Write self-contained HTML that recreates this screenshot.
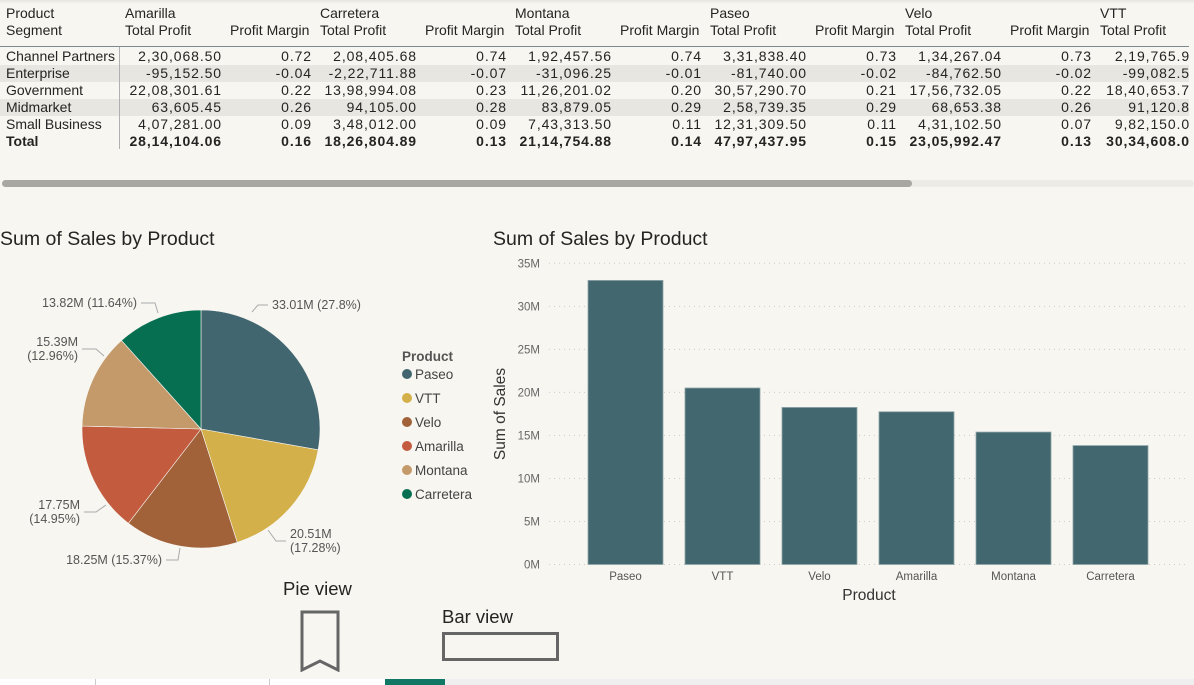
<!DOCTYPE html>
<html><head><meta charset="utf-8">
<style>
body{margin:0;width:1194px;height:685px;background:#f7f6f1;font-family:"Liberation Sans","DejaVu Sans",sans-serif;overflow:hidden;position:relative;color:#252423}
.t{position:absolute;font-size:14px;white-space:nowrap}
.n{letter-spacing:0.9px}
.b{font-weight:bold}
</style></head><body>
<div style="position:absolute;left:0;top:0;width:1194px;height:4px;background:linear-gradient(#e6e5e0,#f7f6f1)"></div>
<div id="tbl" style="position:absolute;left:0;top:0;width:1190px;height:160px;overflow:hidden"></div>
<div style="position:absolute;left:0;top:46px;width:1189px;height:1px;background:#7a8a90"></div>
<div style="position:absolute;left:119px;top:47px;width:1px;height:102px;background:#b0b0b0"></div>
<div style="position:absolute;left:2px;top:180px;width:1192px;height:7px;background:#ecebe6;border-radius:4px"></div>
<div style="position:absolute;left:2px;top:180px;width:910px;height:7px;background:#a8a7a2;border-radius:4px"></div>

<div class="t" style="left:0;top:228px;font-size:19.5px">Sum of Sales by Product</div>
<div class="t" style="left:493px;top:228px;font-size:19.5px">Sum of Sales by Product</div>

<svg id="pie" width="480" height="600" style="position:absolute;left:0;top:0"></svg>
<div id="legend" style="position:absolute;left:402px;top:349px;font-size:13.5px"></div>
<svg id="bar" width="700" height="360" style="position:absolute;left:490px;top:250px"></svg>

<div class="t" style="left:283px;top:578px;font-size:18.5px">Pie view</div>
<svg width="40" height="62" style="position:absolute;left:300px;top:610px"><path d="M2 2H38V60L20 51L2 60Z" fill="none" stroke="#666" stroke-width="3"/></svg>
<div class="t" style="left:442px;top:606px;font-size:18.5px">Bar view</div>
<div style="position:absolute;left:442px;top:632px;border:3px solid #666;width:111px;height:23px"></div>

<div style="position:absolute;left:0;top:679px;width:1194px;height:6px;background:#efefef">
 <div style="position:absolute;left:0;top:0;width:95px;height:6px;background:#fff;border-right:1px solid #ccc"></div>
 <div style="position:absolute;left:96px;top:0;width:173px;height:6px;background:#fff;border-right:1px solid #ccc"></div>
 <div style="position:absolute;left:270px;top:0;width:115px;height:6px;background:#fff"></div>
 <div style="position:absolute;left:385px;top:0;width:60px;height:6px;background:#117865"></div>
</div>

<script>
// ---------- table ----------
const tblProducts=["Amarilla","Carretera","Montana","Paseo","Velo","VTT"];
const tblSegments=["Channel Partners","Enterprise","Government","Midmarket","Small Business","Total"];
const tblProfit=[
 ["2,30,068.50","2,08,405.68","1,92,457.56","3,31,838.40","1,34,267.04","2,19,765.9"],
 ["-95,152.50","-2,22,711.88","-31,096.25","-81,740.00","-84,762.50","-99,082.5"],
 ["22,08,301.61","13,98,994.08","11,26,201.02","30,57,290.70","17,56,732.05","18,40,653.7"],
 ["63,605.45","94,105.00","83,879.05","2,58,739.35","68,653.38","91,120.8"],
 ["4,07,281.00","3,48,012.00","7,43,313.50","12,31,309.50","4,31,102.50","9,82,150.0"],
 ["28,14,104.06","18,26,804.89","21,14,754.88","47,97,437.95","23,05,992.47","30,34,608.0"]];
const tblMargin=[
 ["0.72","0.74","0.74","0.73","0.73"],
 ["-0.04","-0.07","-0.01","-0.02","-0.02"],
 ["0.22","0.23","0.20","0.21","0.22"],
 ["0.26","0.28","0.29","0.29","0.26"],
 ["0.09","0.09","0.11","0.11","0.07"],
 ["0.16","0.13","0.14","0.15","0.13"]];
const tbl=document.getElementById('tbl');
function tx(txt,x,y,cls,name,right){
 const d=document.createElement('div');
 d.className='t '+(cls||'');
 
 
 d.textContent=txt;d.style.top=y+'px';
 if(right){d.style.right=(1190-x)+'px';}else d.style.left=x+'px';
 tbl.appendChild(d);return d;}
[1,3].forEach(i=>{const bg=document.createElement('div');
 
 
 bg.style.cssText='position:absolute;left:0;width:1189px;height:17px;background:#e7e6e1;top:'+(48+i*17)+'px';tbl.appendChild(bg);});
tx('Product',6,5,'','header-product');
tx('Segment',6,22,'','header-segment');
tblProducts.forEach((p,j)=>{const x=125+j*195;
 tx(p,x,5,'','column-product-name');
 tx('Total Profit',x,22,'','column-total-profit');
 if(j<5) tx('Profit Margin',x+105,22,'','column-profit-margin');});
tblSegments.forEach((s,i)=>{const y=48+i*17;const b=i==5?'b':'';
 tx(s,6,y,b,'row-segment-label');
 tblProfit[i].forEach((v,j)=>tx(v,j<5?222+j*195:1190,y,b+' n','profit-cell',true));
 tblMargin[i].forEach((v,j)=>tx(v,312+j*195,y,b+' n','margin-cell',true));});

// ---------- pie ----------
const pieNames=["Paseo","VTT","Velo","Amarilla","Montana","Carretera"];
const pieValues=[33.01,20.51,18.25,17.75,15.39,13.82];
const piePct=["27.8%","17.28%","15.37%","14.95%","12.96%","11.64%"];
const pieColors=["#41666f","#d4b04a","#a1623a","#c35b3f","#c49a6b","#066f51"];
const ns='http://www.w3.org/2000/svg';
const pie=document.getElementById('pie');
const cx=201,cy=429,R=119;
const tot=pieValues.reduce((a,b)=>a+b,0);
let a0=-Math.PI/2;
function el(t,at,p){const e=document.createElementNS(ns,t);for(const k in at)e.setAttribute(k,at[k]);(p||pie).appendChild(e);return e;}
// layout: leader polylines [start, bend, end] and label anchor
const leaders=[[[252,312],[258,305],[268,305]],[[268,530],[276,541],[286,541]],[[180,548],[178,560],[166,560]],[[106,505],[96,512],[84,512]],[[104,356],[96,349],[82,349]],[[158,313],[155,303],[141,303]]];
const twoLine=[false,true,false,true,true,false];
pieValues.forEach((v,i)=>{
 const a1=a0+v/tot*2*Math.PI;
 const x0=cx+R*Math.cos(a0),y0=cy+R*Math.sin(a0),x1=cx+R*Math.cos(a1),y1=cy+R*Math.sin(a1);
 const p=el('path',{d:`M${cx},${cy}L${x0},${y0}A${R},${R} 0 ${a1-a0>Math.PI?1:0} 1 ${x1},${y1}Z`,fill:pieColors[i],stroke:'#f7f6f1','stroke-width':0.6});
 
 
 const L=leaders[i];
 const ln=el('polyline',{points:L.map(q=>q.join(',')).join(' '),fill:'none',stroke:'#aaa','stroke-width':1});
 
 
 const right=L[2][0]>L[1][0];
 const lx=right?L[2][0]+4:L[2][0]-4, by=L[2][1];
 const t=el('text',{x:lx,y:by+4,'text-anchor':right?'start':'end','font-size':12.5,fill:'#555','font-family':'Liberation Sans, sans-serif'});
 
 
 if(!twoLine[i]) t.textContent=v.toFixed(2)+'M ('+piePct[i]+')';
 else { t.setAttribute('y',by-3);
   const s1=el('tspan',{x:lx},t);s1.textContent=v.toFixed(2)+'M';
   const s2=el('tspan',{x:lx,dy:14},t);s2.textContent='('+piePct[i]+')'; }
 a0=a1;});
const lg=document.getElementById('legend');
const lt=document.createElement('div');lt.textContent='Product';lt.style.cssText='font-weight:bold;color:#555;margin-bottom:3px';


lg.appendChild(lt);
pieNames.forEach((n,i)=>{const d=document.createElement('div');
 
 
 d.style.cssText='height:24px;color:#444';
 d.innerHTML='<span style="display:inline-block;width:10px;height:10px;border-radius:50%;background:'+pieColors[i]+';margin-right:3px"></span>'+n;
 lg.appendChild(d);});

// ---------- bar ----------
const barCats=["Paseo","VTT","Velo","Amarilla","Montana","Carretera"];
const barValues=[33.01,20.51,18.25,17.75,15.39,13.82];
const yTicks=[0,5,10,15,20,25,30,35];
const bar=document.getElementById('bar');
const y0p=314.5,yTop=13.3,ymax=35;
const ys=v=>y0p-(v/ymax)*(y0p-yTop);
const xs=i=>98+i*97;
yTicks.forEach(v=>{
 const g=el('line',{x1:59,x2:697,y1:ys(v),y2:ys(v),stroke:'#ccc','stroke-dasharray':'1 4'},bar);
 
 
 const t=el('text',{x:50,y:ys(v)+4,'text-anchor':'end','font-size':11.5,fill:'#666','font-family':'Liberation Sans, sans-serif'},bar);
 
 
 t.textContent=v+'M';});
barCats.forEach((c,i)=>{
 const r=el('rect',{x:xs(i),y:ys(barValues[i]),width:75,height:y0p-ys(barValues[i]),fill:'#42676f',stroke:'#8fa5a9','stroke-width':0.8},bar);
 
 
 const t=el('text',{x:xs(i)+37.5,y:330,'text-anchor':'middle','font-size':11.5,fill:'#555','font-family':'Liberation Sans, sans-serif'},bar);
 
 
 t.textContent=c;});
const xt=el('text',{x:379,y:350,'text-anchor':'middle','font-size':15.5,fill:'#333','font-family':'Liberation Sans, sans-serif'},bar);


xt.textContent='Product';
const yt=el('text',{x:0,y:0,transform:'translate(15,164) rotate(-90)','text-anchor':'middle','font-size':15.5,fill:'#333','font-family':'Liberation Sans, sans-serif'},bar);


yt.textContent='Sum of Sales';
</script>
</body></html>
